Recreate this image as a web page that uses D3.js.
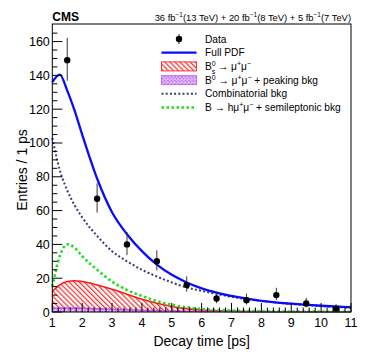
<!DOCTYPE html>
<html>
<head>
<meta charset="utf-8">
<script src="https://cdn.jsdelivr.net/npm/d3@7"></script>
<style>
  body { margin: 0; background: #fff; }
  svg text { font-family: "Liberation Sans", Arial, Helvetica, sans-serif; }
</style>
</head>
<body>
<svg id="chart" width="374" height="359"></svg>
<script>
// ---- data ----
const binCentres = [1.5, 2.5, 3.5, 4.5, 5.5, 6.5, 7.5, 8.5, 9.5, 10.5];
const entries    = [149, 67, 40, 30, 16, 8, 7, 10, 5, 2];
const errLow     = [12.2, 8.2, 6.3, 5.4, 4.0, 2.8, 2.6, 3.1, 2.2, 1.3];
const errHigh    = [13.2, 9.2, 7.4, 6.5, 5.1, 3.9, 3.8, 4.3, 3.4, 2.6];

const curveT      = [1, 1.25, 1.5, 1.75, 2, 2.5, 3, 3.5, 4, 4.5, 5, 5.5, 6, 7, 8, 9, 10, 11];
const fullPdf     = [136, 140.4, 131, 119, 105, 79, 59, 46, 36, 28, 22, 17.5, 14, 9.5, 6.6, 4.9, 3.7, 2.8];
const combinatorial = [103, 84, 72, 63, 56, 45, 36, 30, 25, 21, 17.5, 14.5, 12.5, 9, 6.5, 4.8, 3.5, 2.6];
const semilep     = [15, 33, 40, 38, 33, 25, 18, 13, 9.5, 6.5, 4.2, 2.8, 1.8, 0.9, 0.5, 0.3, 0.2, 0.1];
const bsSignal    = [12, 16, 18, 18.5, 18, 16, 13.5, 10.5, 7.5, 5.2, 3.3, 2, 1.2, 0.5, 0.2, 0.1, 0.05, 0];
const bdPeaking   = [2.2, 2.3, 2.3, 2.3, 2.2, 1.9, 1.6, 1.3, 1.0, 0.8, 0.6, 0.45, 0.35, 0.2, 0.1, 0.05, 0.02, 0];

const xTicks = [1, 2, 3, 4, 5, 6, 7, 8, 9, 10, 11];
const yTicks = [0, 20, 40, 60, 80, 100, 120, 140, 160];

// ---- layout ----
const svg = d3.select("#chart");
const pLeft = 52.3, pRight = 351, pTop = 24, pBottom = 312;
const x = d3.scaleLinear().domain([1, 11]).range([pLeft, pRight]);
const y = d3.scaleLinear().domain([0, 170.4]).range([pBottom, pTop]);

const defs = svg.append("defs");
// red hatch "\\\\"
const hatch = defs.append("pattern")
  .attr("id", "hatchRed").attr("patternUnits", "userSpaceOnUse")
  .attr("width", 3.6).attr("height", 3.6).attr("patternTransform", "rotate(-45)");
hatch.append("line").attr("x1", 0.6).attr("y1", 0).attr("x2", 0.6).attr("y2", 3.6)
  .attr("stroke", "#ff2a2a").attr("stroke-width", 1.2);
// violet cross-hatch
const cross = defs.append("pattern")
  .attr("id", "crossViolet").attr("patternUnits", "userSpaceOnUse")
  .attr("width", 3.5).attr("height", 3.5);
cross.append("rect").attr("width", 3.5).attr("height", 3.5).attr("fill", "#f0dcff");
cross.append("path").attr("d", "M0,0L3.5,3.5M3.5,0L0,3.5")
  .attr("stroke", "#c070f0").attr("stroke-width", 0.9);

const pts = vals => curveT.map((t, i) => [t, vals[i]]);
const line = d3.line().x(d => x(d[0])).y(d => y(d[1])).curve(d3.curveMonotoneX);
const area = d3.area().x(d => x(d[0])).y0(y(0)).y1(d => y(d[1])).curve(d3.curveMonotoneX);

const plot = svg.append("g");
// Bs signal: hatched area
plot.append("path").attr("d", area(pts(bsSignal))).attr("fill", "url(#hatchRed)");
plot.append("path").attr("d", line(pts(bsSignal))).attr("fill", "none")
  .attr("stroke", "#ff1a1a").attr("stroke-width", 1.6);
// B0 + peaking
plot.append("path").attr("d", area(pts(bdPeaking))).attr("fill", "url(#crossViolet)");
plot.append("path").attr("d", line(pts(bdPeaking))).attr("fill", "none")
  .attr("stroke", "#cc55ee").attr("stroke-width", 1.6);
// semileptonic
plot.append("path").attr("d", line(pts(semilep))).attr("fill", "none")
  .attr("stroke", "#22dd22").attr("stroke-width", 2.6).attr("stroke-dasharray", "2.5,2.5");
// combinatorial
plot.append("path").attr("d", line(pts(combinatorial))).attr("fill", "none")
  .attr("stroke", "#3a3a78").attr("stroke-width", 2).attr("stroke-dasharray", "2,2.2");
// full pdf
plot.append("path").attr("d", line(pts(fullPdf))).attr("fill", "none")
  .attr("stroke", "#0a0aff").attr("stroke-width", 2.3);

// data points
const dataG = plot.selectAll(".pt").data(binCentres).enter().append("g");
dataG.append("line")
  .attr("x1", d => x(d)).attr("x2", d => x(d))
  .attr("y1", (d, i) => y(entries[i] + errHigh[i]))
  .attr("y2", (d, i) => y(entries[i] - errLow[i]))
  .attr("stroke", "#333").attr("stroke-width", 1);
dataG.append("circle")
  .attr("cx", d => x(d)).attr("cy", (d, i) => y(entries[i]))
  .attr("r", 3.2).attr("fill", "#000");

// ---- axes ----
const axG = svg.append("g").attr("stroke", "#000").attr("stroke-width", 1);
// x ticks (inward)
d3.range(1, 11.001, 0.2).forEach(t => {
  const major = Math.abs(t - Math.round(t)) < 1e-6;
  axG.append("line").attr("x1", x(t)).attr("x2", x(t))
    .attr("y1", pBottom).attr("y2", pBottom - (major ? 9 : 4.5));
});
// y ticks (inward)
d3.range(0, 170, 5).forEach(v => {
  const major = v % 20 === 0;
  axG.append("line").attr("x1", pLeft).attr("x2", pLeft + (major ? 10 : 5))
    .attr("y1", y(v)).attr("y2", y(v));
});
svg.append("rect").attr("x", pLeft).attr("y", pTop)
  .attr("width", pRight - pLeft).attr("height", pBottom - pTop)
  .attr("fill", "none").attr("stroke", "#000").attr("stroke-width", 1);

svg.append("g").selectAll("text").data(xTicks).enter().append("text")
  .attr("x", d => x(d)).attr("y", pBottom + 14.5)
  .attr("text-anchor", "middle").attr("font-size", 12.5).text(d => d);
svg.append("g").selectAll("text").data(yTicks).enter().append("text")
  .attr("x", pLeft - 2.5).attr("y", d => y(d) + 4.5)
  .attr("text-anchor", "end").attr("font-size", 12.5).text(d => d);

svg.append("text").attr("x", (pLeft + pRight) / 2).attr("y", 346)
  .attr("text-anchor", "middle").attr("font-size", 14).text("Decay time [ps]");
svg.append("text").attr("transform", "translate(27,170) rotate(-90)")
  .attr("text-anchor", "middle").attr("font-size", 14).text("Entries / 1 ps");

// header
svg.append("text").attr("x", pLeft).attr("y", 21).attr("font-size", 12)
  .attr("font-weight", "bold").text("CMS");
const lumi = svg.append("text").attr("x", pRight).attr("y", 21)
  .attr("text-anchor", "end").attr("font-size", 9.4);
[["36 fb", "−1", "(13 TeV) + 20 fb"], ["", "−1", "(8 TeV) + 5 fb"], ["", "−1", "(7 TeV)"]].forEach(p => {
  if (p[0]) lumi.append("tspan").text(p[0]);
  lumi.append("tspan").attr("dy", -4).attr("font-size", 6.5).text(p[1]);
  lumi.append("tspan").attr("dy", 4).text(p[2]);
});

// ---- legend ----
const lg = svg.append("g");
const lx0 = 161.5, lx1 = 196.5, tx = 205;
const rowY = [39, 52.7, 66.4, 80.1, 93.8, 107.5];
const fs = 10.2;
// Data
lg.append("line").attr("x1", 179).attr("x2", 179).attr("y1", rowY[0] - 5).attr("y2", rowY[0] + 5)
  .attr("stroke", "#333");
lg.append("circle").attr("cx", 179).attr("cy", rowY[0]).attr("r", 3.2).attr("fill", "#000");
// full pdf
lg.append("line").attr("x1", lx0).attr("x2", lx1).attr("y1", rowY[1]).attr("y2", rowY[1])
  .attr("stroke", "#0a0aff").attr("stroke-width", 2.3);
// boxes
lg.append("rect").attr("x", lx0).attr("y", rowY[2] - 4.5).attr("width", lx1 - lx0).attr("height", 9)
  .attr("fill", "url(#hatchRed)").attr("stroke", "#ff3030").attr("stroke-width", 1);
lg.append("rect").attr("x", lx0).attr("y", rowY[3] - 4.5).attr("width", lx1 - lx0).attr("height", 9)
  .attr("fill", "url(#crossViolet)").attr("stroke", "#c070f0").attr("stroke-width", 1);
lg.append("line").attr("x1", lx0).attr("x2", lx1).attr("y1", rowY[4]).attr("y2", rowY[4])
  .attr("stroke", "#3a3a78").attr("stroke-width", 2).attr("stroke-dasharray", "2,2.2");
lg.append("line").attr("x1", lx0).attr("x2", lx1).attr("y1", rowY[5]).attr("y2", rowY[5])
  .attr("stroke", "#22dd22").attr("stroke-width", 2.6).attr("stroke-dasharray", "2.5,2.5");

function label(i) {
  return lg.append("text").attr("x", tx).attr("y", rowY[i] + 3.6).attr("font-size", fs);
}
label(0).text("Data");
label(1).text("Full PDF");
let t2 = label(2);
t2.append("tspan").text("B");
t2.append("tspan").attr("dy", -4).attr("font-size", 7).text("0");
t2.append("tspan").attr("dx", -4).attr("dy", 7.5).attr("font-size", 7).text("s");
t2.append("tspan").attr("dy", -3.5).text(" → μ");
t2.append("tspan").attr("dy", -4).attr("font-size", 7).text("+");
t2.append("tspan").attr("dy", 4).text("μ");
t2.append("tspan").attr("dy", -4).attr("font-size", 7).text("−");
let t3 = label(3);
t3.append("tspan").text("B");
t3.append("tspan").attr("dy", -4).attr("font-size", 7).text("0");
t3.append("tspan").attr("dy", 4).text(" → μ");
t3.append("tspan").attr("dy", -4).attr("font-size", 7).text("+");
t3.append("tspan").attr("dy", 4).text("μ");
t3.append("tspan").attr("dy", -4).attr("font-size", 7).text("−");
t3.append("tspan").attr("dy", 4).text(" + peaking bkg");
label(4).text("Combinatorial bkg");
let t5 = label(5);
t5.append("tspan").text("B → hμ");
t5.append("tspan").attr("dy", -4).attr("font-size", 7).text("+");
t5.append("tspan").attr("dy", 4).text("μ");
t5.append("tspan").attr("dy", -4).attr("font-size", 7).text("−");
t5.append("tspan").attr("dy", 4).text(" + semileptonic bkg");
</script>
</body>
</html>
